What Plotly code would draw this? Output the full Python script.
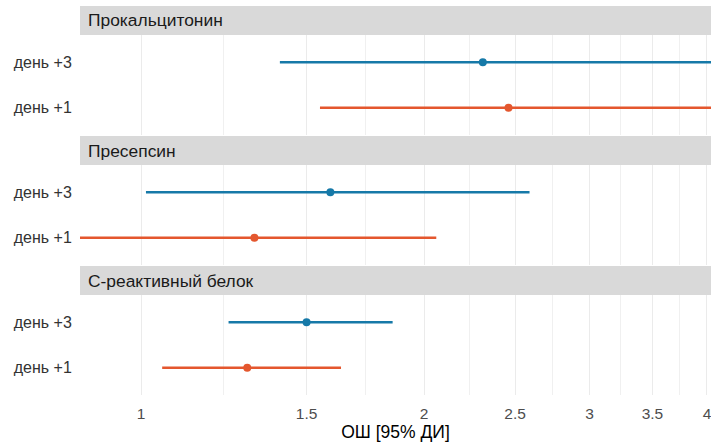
import plotly.graph_objects as go
import numpy as np

# ---- data ----
markers = ["Прокальцитонин", "Пресепсин", "С-реактивный белок"]
days = ["день +1", "день +3"]
or_day3 = [2.31, 1.59, 1.50]
lo_day3 = [1.405, 1.012, 1.239]
hi_day3 = [4.9, 2.59, 1.852]
or_day1 = [2.46, 1.32, 1.297]
lo_day1 = [1.55, 0.83, 1.053]
hi_day1 = [5.6, 2.061, 1.632]
x_ticks = [1, 1.5, 2, 2.5, 3, 3.5, 4]
x_tick_labels = ["1", "1.5", "2", "2.5", "3", "3.5", "4"]
ref_value = 1
x_limits = [0.861, 4.04]

col_day3 = "#1679a8"
col_day1 = "#e4572e"

W, H = 711, 443
M_L, M_R, M_T, M_B = 80, 0, 6, 48
plot_h = H - M_T - M_B
strip_h, panel_h, block_h = 29, 100, 130


def py(pix):
    # pixel y (from top of page) -> paper fraction
    return (H - M_B - pix) / plot_h


fig = go.Figure()
layout = {}
minor_vals = [float(np.sqrt(a * b)) for a, b in zip(x_ticks[:-1], x_ticks[1:])]

for k, name in enumerate(markers):
    top = M_T + block_h * k
    s_top, s_bot = top, top + strip_h
    p_top, p_bot = s_bot, s_bot + panel_h
    ax = "" if k == 0 else str(k + 1)
    xa, ya = "x" + ax, "y" + ax
    series = [
        ("день +1", lo_day1[k], or_day1[k], hi_day1[k], col_day1),
        ("день +3", lo_day3[k], or_day3[k], hi_day3[k], col_day3),
    ]
    # reference line
    fig.add_trace(go.Scatter(x=[ref_value, ref_value], y=[-0.6, 1.6], mode="lines",
                             line=dict(color="#707070", width=1.5), xaxis=xa, yaxis=ya,
                             showlegend=False, hoverinfo="skip"))
    for day, lo, est, hi, col in series:
        fig.add_trace(go.Scatter(x=[lo, hi], y=[day, day], mode="lines",
                                 line=dict(color=col, width=2.6), xaxis=xa, yaxis=ya,
                                 showlegend=False, hoverinfo="skip"))
        fig.add_trace(go.Scatter(x=[est], y=[day], mode="markers",
                                 marker=dict(color=col, size=8), xaxis=xa, yaxis=ya,
                                 showlegend=False))
    xdef = dict(
        type="log", range=[np.log10(x_limits[0]), np.log10(x_limits[1])],
        domain=[0, 1], anchor=ya, tickvals=x_ticks, ticktext=x_tick_labels,
        showticklabels=(k == 2), showgrid=True, gridcolor="#ebebeb", gridwidth=1.2,
        zeroline=False, showline=False, ticks="outside" if k == 2 else "",
        ticklen=4, tickcolor="rgba(0,0,0,0)", automargin=False,
        ticklabeloverflow="allow",
        tickfont=dict(size=15.5, color="#4d4d4d"),
        minor=dict(tickvals=minor_vals, showgrid=True, gridcolor="#f0f0f0", gridwidth=1),
    )
    if k > 0:
        xdef["matches"] = "x"
    layout["xaxis" + ax] = xdef
    layout["yaxis" + ax] = dict(
        type="category", categoryorder="array", categoryarray=days,
        range=[-0.6, 1.6], domain=[py(p_bot), py(p_top)], anchor=xa,
        showgrid=False, zeroline=False, showline=False, automargin=False,
        ticks="outside", ticklen=4, tickcolor="rgba(0,0,0,0)",
        tickfont=dict(size=16, color="#333333"),
    )
    fig.add_shape(type="rect", xref="paper", yref="paper", x0=0, x1=1,
                  y0=py(s_bot), y1=py(s_top), fillcolor="#d9d9d9", line=dict(width=0),
                  layer="below")
    fig.add_annotation(text=name, xref="paper", yref="paper", x=0, xshift=6,
                       y=(py(s_bot) + py(s_top)) / 2, xanchor="left", yanchor="middle",
                       showarrow=False, font=dict(size=17.4, color="#1a1a1a"))

layout["xaxis3"]["title"] = dict(text="ОШ [95% ДИ]", font=dict(size=17.5, color="#000000"),
                                 standoff=1)

fig.update_layout(**layout)
fig.update_layout(width=W, height=H, margin=dict(l=M_L, r=M_R, t=M_T, b=M_B, autoexpand=False),
                  plot_bgcolor="white", paper_bgcolor="white",
                  font=dict(family="Liberation Sans, Arial, sans-serif"),
                  showlegend=False)
fig.write_html("out.html", config={"displayModeBar": False},
               post_script="document.body.style.margin='0';")
